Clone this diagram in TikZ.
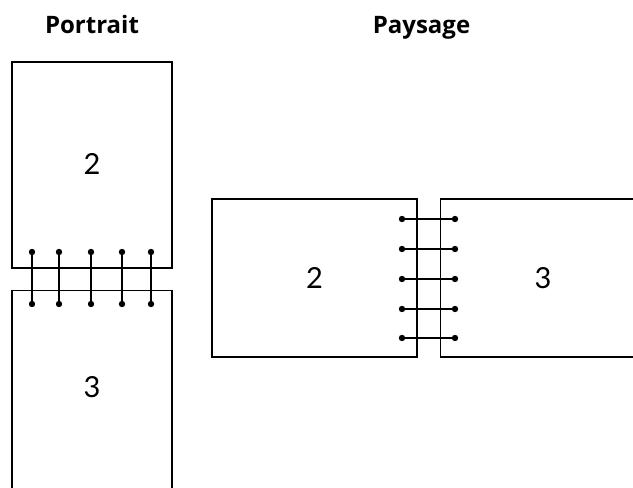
\documentclass[tikz,border=0pt]{standalone}
\usepackage{fontspec}
\setmainfont{Lato}
\newfontfamily\headfont{Open Sans}
\usetikzlibrary{positioning}

\begin{document}
\begin{tikzpicture}[x=1pt, y=-1pt,
  page/.style={draw, line width=1.6pt, minimum width=160pt, minimum height=206pt, inner sep=0pt},
  leaf/.style={draw, line width=1.6pt, minimum width=205pt, minimum height=158pt, inner sep=0pt},
  num/.style={font=\fontsize{29}{32}\selectfont},
  heading/.style={font=\headfont\fontsize{24}{28}\selectfont\bfseries, anchor=base},
  ring/.style={draw=black, line width=2.4pt},
  dot/.style={fill=black, radius=3.2pt}]
\useasboundingbox (0,0) rectangle (633,488);
\clip (0,0) rectangle (633,488);
\node[heading] (portrait) at (92,33) {Portrait};
\node[heading] (paysage) at (421.5,33) {Paysage};
% portrait
\node[page] (p2) at (92,165) {};
\node[num] (n2) at (92,163.5) {2};
\node[page, below=21pt of p2] (p3) {};
\node[num] (n3) at ([yshift=6pt]p3.center) {3};
\foreach \x [count=\i] in {32,59,91,122,151} {
  \coordinate (pt\i) at (\x,252);
  \coordinate (pb\i) at (\x,304);
  \draw[ring] (pt\i) -- (pb\i);
  \fill[dot] (pt\i) circle[] (pb\i) circle[];
}
% paysage
\node[leaf, num] (l2) at (314.5,278) {2};
\node[leaf, num, right=22pt of l2] (l3) {3};
\foreach \y [count=\i] in {219,249,279,309,338} {
  \coordinate (ll\i) at (402,\y);
  \coordinate (lr\i) at (455,\y);
  \draw[ring] (ll\i) -- (lr\i);
  \fill[dot] (ll\i) circle[] (lr\i) circle[];
}
\end{tikzpicture}
\end{document}
